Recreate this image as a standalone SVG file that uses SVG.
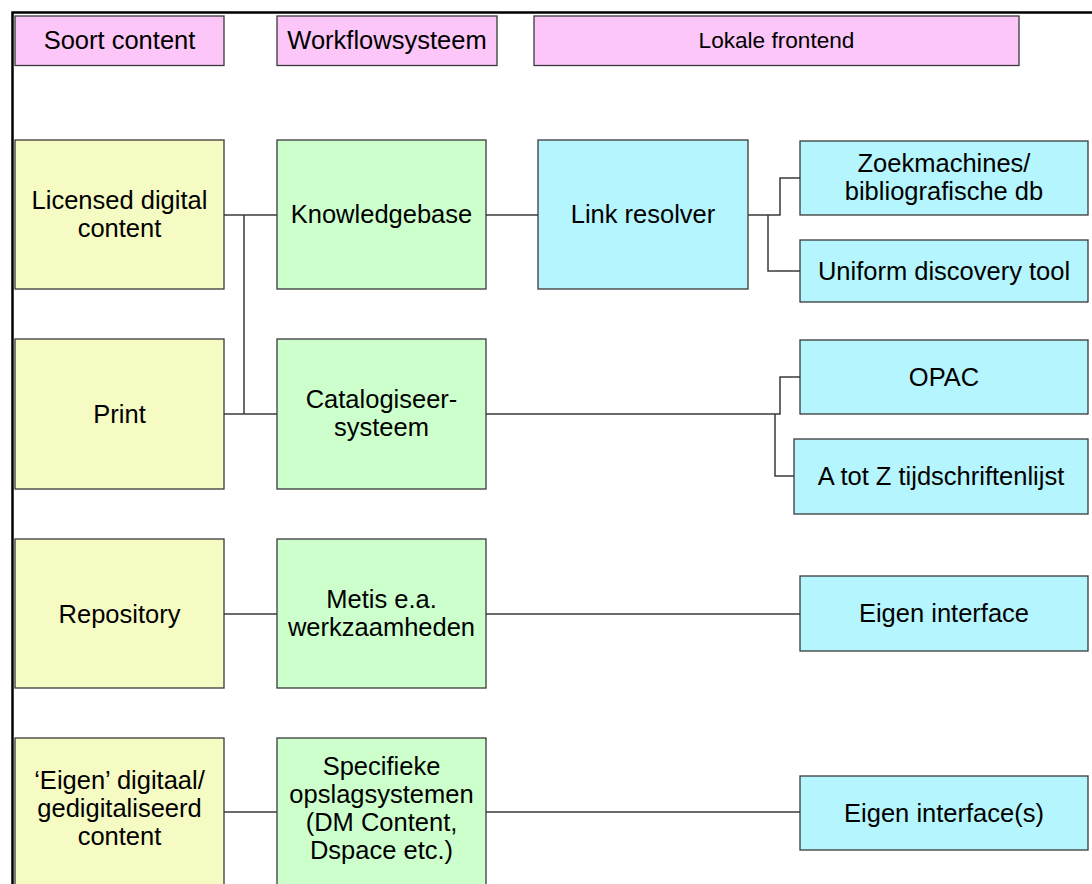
<svg xmlns="http://www.w3.org/2000/svg" width="1092" height="884" viewBox="0 0 1092 884">
<style>
  .box { stroke: #3a3a3a; stroke-width: 1.3; }
  .hdr { fill: #FCC6F8; }
  .src { fill: #F5FBC3; }
  .wf { fill: #CCFFCC; }
  .fe { fill: #B5F5FD; }
  text { font-family: "Liberation Sans", Arial, sans-serif; font-size: 25.5px; fill: #000; text-anchor: middle; }
  .conn { fill: none; stroke: #3a3a3a; stroke-width: 1.5; }
</style>
<rect x="0" y="0" width="1092" height="884" fill="#ffffff"/>
<path d="M1092 12.5 H12.5 V884" fill="none" stroke="#000" stroke-width="2.5"/>

<g id="connectors">
  <path class="conn" d="M224 215 H277"/>
  <path class="conn" d="M224 414 H277"/>
  <path class="conn" d="M244 215 V414"/>
  <path class="conn" d="M486 215 H538"/>
  <path class="conn" d="M748 215 H780 V178 H800"/>
  <path class="conn" d="M768 215 V271 H800"/>
  <path class="conn" d="M486 414 H780 V377 H800"/>
  <path class="conn" d="M775 414 V476 H794"/>
  <path class="conn" d="M224 614 H277"/>
  <path class="conn" d="M486 614 H800"/>
  <path class="conn" d="M224 812 H277"/>
  <path class="conn" d="M486 812 H800"/>
</g>

<g id="hdr-soort">
  <rect class="box hdr" x="15" y="16" width="209" height="49.5"/>
  <text x="119.5" y="48.5">Soort content</text>
</g>
<g id="hdr-workflow">
  <rect class="box hdr" x="277" y="16" width="220" height="49.5"/>
  <text x="387" y="48.5">Workflowsysteem</text>
</g>
<g id="hdr-frontend">
  <rect class="box hdr" x="534" y="16" width="485" height="49.5"/>
  <text x="776.5" y="48" style="font-size:22.6px">Lokale frontend</text>
</g>

<g id="licensed">
  <rect class="box src" x="15" y="140" width="209" height="149"/>
  <text x="119.5" y="208.5">Licensed digital</text>
  <text x="119.5" y="236.5">content</text>
</g>
<g id="knowledgebase">
  <rect class="box wf" x="277" y="140" width="209" height="149"/>
  <text x="381.5" y="223">Knowledgebase</text>
</g>
<g id="linkresolver">
  <rect class="box fe" x="538" y="140" width="210" height="149"/>
  <text x="643" y="223">Link resolver</text>
</g>
<g id="zoekmachines">
  <rect class="box fe" x="800" y="141" width="288" height="74"/>
  <text x="944" y="172">Zoekmachines/</text>
  <text x="944" y="200">bibliografische db</text>
</g>
<g id="uniform">
  <rect class="box fe" x="800" y="240" width="288" height="62"/>
  <text x="944" y="280">Uniform discovery tool</text>
</g>

<g id="print">
  <rect class="box src" x="15" y="339" width="209" height="150"/>
  <text x="119.5" y="422.5">Print</text>
</g>
<g id="catalogiseer">
  <rect class="box wf" x="277" y="339" width="209" height="150"/>
  <text x="381.5" y="408">Catalogiseer-</text>
  <text x="381.5" y="436">systeem</text>
</g>
<g id="opac">
  <rect class="box fe" x="800" y="340" width="288" height="74"/>
  <text x="944" y="385.5">OPAC</text>
</g>
<g id="atotz">
  <rect class="box fe" x="794" y="439" width="294" height="75"/>
  <text x="941" y="485">A tot Z tijdschriftenlijst</text>
</g>

<g id="repository">
  <rect class="box src" x="15" y="539" width="209" height="149"/>
  <text x="119.5" y="622.5">Repository</text>
</g>
<g id="metis">
  <rect class="box wf" x="277" y="539" width="209" height="149"/>
  <text x="381.5" y="608">Metis e.a.</text>
  <text x="381.5" y="636">werkzaamheden</text>
</g>
<g id="eigeninterface">
  <rect class="box fe" x="800" y="576" width="288" height="75"/>
  <text x="944" y="622">Eigen interface</text>
</g>

<g id="eigendigitaal">
  <rect class="box src" x="15" y="738" width="209" height="149"/>
  <text x="119.5" y="789">‘Eigen’ digitaal/</text>
  <text x="119.5" y="817">gedigitaliseerd</text>
  <text x="119.5" y="845">content</text>
</g>
<g id="specifieke">
  <rect class="box wf" x="277" y="738" width="209" height="149"/>
  <text x="381.5" y="775">Specifieke</text>
  <text x="381.5" y="803">opslagsystemen</text>
  <text x="381.5" y="831">(DM Content,</text>
  <text x="381.5" y="859">Dspace etc.)</text>
</g>
<g id="eigeninterfaces">
  <rect class="box fe" x="800" y="776" width="288" height="74"/>
  <text x="944" y="821.5">Eigen interface(s)</text>
</g>
</svg>
